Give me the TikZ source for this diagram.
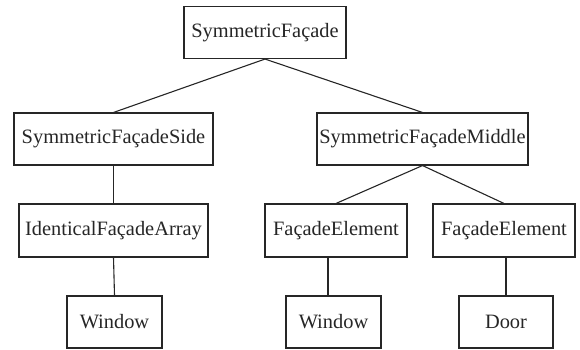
\documentclass[tikz,border=0pt]{standalone}
\usepackage{fontspec}
\setmainfont{Liberation Serif}
\begin{document}
\begin{tikzpicture}[x=1pt,y=-1pt,
  box/.style={draw=black!85,line width=1.1pt,inner sep=0pt,minimum height=52pt,font=\fontsize{20.4}{24}\selectfont,text=black!85},
  conn/.style={draw=black!85,line width=1.1pt}]
\useasboundingbox (0,0) rectangle (580,349);
\node[box,minimum width=162pt] (top) at (265,32.5) {SymmetricFaçade};
\node[box,minimum width=199pt] (side) at (113.5,139) {SymmetricFaçadeSide};
\node[box,minimum width=211pt] (mid) at (422.5,139) {SymmetricFaçadeMiddle};
\node[box,minimum width=189pt,minimum height=53pt] (ifa) at (113.5,230.5) {IdenticalFaçadeArray};
\node[box,minimum width=142pt,minimum height=53pt] (fe1) at (336,230.5) {FaçadeElement};
\node[box,minimum width=142pt,minimum height=53pt] (fe2) at (504,230.5) {FaçadeElement};
\node[box,minimum width=95pt] (w1) at (114.5,322) {Window};
\node[box,minimum width=95pt] (w2) at (333.5,322) {Window};
\node[box,minimum width=94pt] (door) at (506,322) {Door};
\coordinate (v2) at (328,0);
\draw[conn] (side.north) -- (top.south) -- (mid.north);
\draw[conn] (fe1.north) -- (mid.south) -- (fe2.north);
\draw[conn] (side.south) -- (ifa.north);
\draw[conn] (ifa.south) -- (w1.north);
\draw[conn] (fe1.south -| v2) -- (w2.north -| v2);
\draw[conn] (door.north |- fe2.south) -- (door.north);
\end{tikzpicture}
\end{document}
